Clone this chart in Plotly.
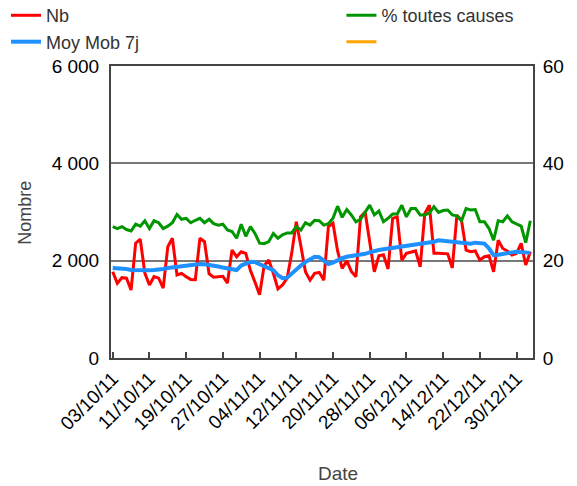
import pandas as pd
import plotly.graph_objects as go

start_date = "2011-10-03"
n_days = 92
dates = pd.date_range(start_date, periods=n_days, freq="D")

nb = [1772, 1534, 1650, 1640, 1396, 2360, 2440, 1745, 1500, 1671,
      1640, 1437, 2285, 2460, 1705, 1740, 1670, 1615, 1610, 2460,
      2390, 1730, 1660, 1670, 1680, 1540, 2218, 2080, 2183, 2150,
      1800, 1560, 1300, 1900, 2012, 1740, 1420, 1500, 1640, 2150,
      2800, 2300, 1772, 1600, 1740, 1760, 1600, 2700, 2770, 2200,
      1842, 2000, 1780, 1670, 2900, 3000, 2350, 1770, 2100, 2120,
      1830, 2870, 2900, 2012, 2150, 2180, 2200, 1875, 2970, 3140,
      2150, 2150, 2150, 2140, 1850, 2935, 2830, 2218, 2183, 2200,
      2012, 2080, 2100, 1772, 2420, 2250, 2200, 2115, 2150, 2355,
      1910, 2183]

moy_mob_7j = [1850, 1850, 1845, 1830, 1810, 1805, 1805, 1805, 1805, 1810,
              1815, 1830, 1850, 1860, 1870, 1885, 1900, 1915, 1930, 1930,
              1925, 1915, 1900, 1880, 1860, 1842, 1810, 1807, 1900, 1944,
              1978, 1970, 1925, 1890, 1850, 1807, 1700, 1640, 1650, 1740,
              1820, 1900, 1975, 2030, 2080, 2070, 2000, 1930, 1960, 2010,
              2050, 2080, 2090, 2100, 2115, 2140, 2170, 2200, 2220, 2235,
              2250, 2260, 2280, 2290, 2300, 2310, 2320, 2340, 2370, 2380,
              2390, 2420, 2410, 2400, 2380, 2370, 2355, 2345, 2350, 2370,
              2360, 2350, 2250, 2115, 2120, 2130, 2150, 2170, 2183, 2180,
              2175, 2160]

pct_toutes_causes = [27.0, 26.6, 27.0, 26.4, 26.1, 27.5, 27.1, 28.2, 26.6, 28.2,
                     27.8, 26.6, 27.1, 27.8, 29.5, 28.5, 28.7, 27.8, 28.3, 28.7,
                     27.8, 28.5, 27.6, 27.3, 27.5, 26.3, 26.0, 24.6, 27.5, 25.0,
                     27.0, 25.6, 23.6, 23.5, 23.9, 25.6, 24.6, 25.3, 25.7, 25.7,
                     27.0, 26.3, 27.8, 27.3, 28.3, 28.2, 27.3, 27.6, 28.7, 31.2,
                     28.9, 30.5, 29.4, 28.0, 28.5, 30.0, 31.4, 29.4, 30.2, 28.0,
                     28.7, 29.6, 29.6, 31.4, 29.0, 30.7, 30.7, 29.4, 29.4, 29.8,
                     31.1, 29.9, 30.3, 30.4, 29.4, 29.2, 28.2, 30.7, 30.4, 30.5,
                     28.0, 28.0, 26.6, 24.2, 28.2, 28.0, 29.2, 28.0, 27.6, 27.1,
                     23.7, 28.2]

tick_dates = pd.date_range(start_date, "2011-12-30", freq="8D")
left_ticks = [0, 2000, 4000, 6000]
right_ticks = [0, 20, 40, 60]

FONT = "Liberation Sans, Arial, sans-serif"

fig = go.Figure()
fig.add_trace(go.Scatter(x=dates, y=nb, name="Nb", mode="lines",
                         legend="legend", legendgroup="a",
                         line=dict(color="#ff0000", width=3)))
fig.add_trace(go.Scatter(x=dates, y=moy_mob_7j, name="Moy Mob 7j", mode="lines",
                         legend="legend", legendgroup="b",
                         line=dict(color="#1e90ff", width=4)))
fig.add_trace(go.Scatter(x=dates, y=pct_toutes_causes, name="% toutes causes",
                         mode="lines", yaxis="y2",
                         legend="legend2", legendgroup="c",
                         line=dict(color="#009600", width=3)))
fig.add_trace(go.Scatter(x=[None], y=[None], name="", mode="lines",
                         yaxis="y2", showlegend=True,
                         legend="legend2", legendgroup="d",
                         line=dict(color="#ffa500", width=3)))

legend_common = dict(orientation="v", xanchor="left", yanchor="top",
                     xref="container", yref="paper", y=1.236,
                     tracegroupgap=2,
                     font=dict(size=18, color="#333333"),
                     bgcolor="rgba(0,0,0,0)", traceorder="normal")

fig.update_layout(
    width=577, height=486,
    margin=dict(l=111, r=44, t=66, b=128, autoexpand=False),
    paper_bgcolor="white", plot_bgcolor="white",
    separators=", ",
    font=dict(family=FONT, size=19, color="#000000"),
    showlegend=True,
    legend=dict(x=0.0104, **legend_common),
    legend2=dict(x=0.5917, **legend_common),
    xaxis=dict(
        type="date",
        range=["2011-10-02 15:00", "2012-01-02 14:00"],
        tickvals=list(tick_dates), tickformat="%d/%m/%y", tickangle=-45,
        ticks="inside", ticklen=6, tickwidth=2, tickcolor="#444444",
        showline=True, linecolor="#444444", linewidth=2, mirror=True,
        showgrid=False, zeroline=False,
        tickfont=dict(size=19, color="#000000"),
    ),
    yaxis=dict(
        range=[0, 6000], tickvals=left_ticks, tickformat=",d",
        showline=True, linecolor="#444444", linewidth=2,
        showgrid=True, gridcolor="#777777", gridwidth=2,
        zeroline=False, ticks="", ticklabelstandoff=6,
        tickfont=dict(size=19, color="#000000"),
    ),
    yaxis2=dict(
        range=[0, 60], tickvals=right_ticks, overlaying="y", side="right",
        showline=True, linecolor="#444444", linewidth=2,
        showgrid=False, zeroline=False, ticks="", ticklabelstandoff=4,
        tickfont=dict(size=19, color="#000000"),
    ),
    annotations=[
        dict(text="Nombre", xref="paper", yref="paper", x=-0.204, y=0.497,
             xanchor="center", yanchor="middle", textangle=-90, showarrow=False,
             font=dict(size=18, color="#444444")),
        dict(text="Date", xref="paper", yref="paper", x=0.538, y=-0.394,
             xanchor="center", yanchor="middle", showarrow=False,
             font=dict(size=19, color="#444444")),
    ],
)

fig.write_html("out.html",
               config={"displayModeBar": False},
               post_script="document.body.style.margin='0';")
